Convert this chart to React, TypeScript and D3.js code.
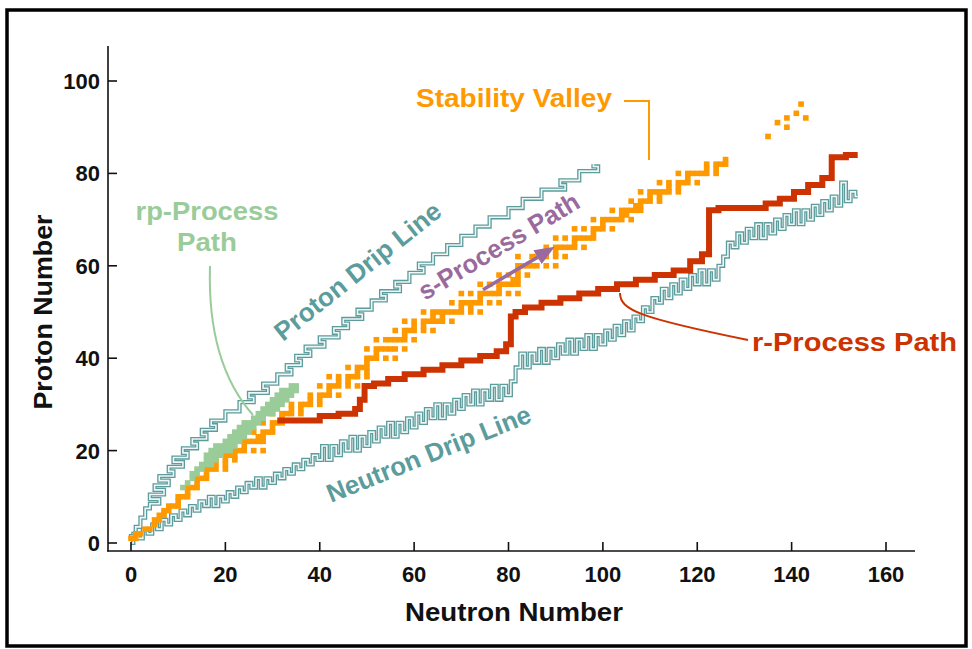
import * as d3 from "d3";
import { useEffect, useRef } from "react";

const xTicks = [0, 20, 40, 60, 80, 100, 120, 140, 160];
const yTicks = [0, 20, 40, 60, 80, 100];

// stable nuclides: [Z, stable N values]
const stableNuclides: [number, number[]][] = [
  [1, [0, 1]], [2, [1, 2]], [3, [3, 4]], [4, [5]], [5, [5, 6]], [6, [6, 7]], [7, [7, 8]], [8, [8, 9, 10]], [9, [10]], [10, [10, 11, 12]],
  [11, [12]], [12, [12, 13, 14]], [13, [14]], [14, [14, 15, 16]], [15, [16]], [16, [16, 17, 18, 20]], [17, [18, 20]], [18, [18, 20, 22]], [19, [20, 21, 22]], [20, [20, 22, 23, 24, 26, 28]],
  [21, [24]], [22, [24, 25, 26, 27, 28]], [23, [27, 28]], [24, [26, 28, 29, 30]], [25, [30]], [26, [28, 30, 31, 32]], [27, [32]], [28, [30, 32, 33, 34, 36]], [29, [34, 36]], [30, [34, 36, 37, 38, 40]],
  [31, [38, 40]], [32, [38, 40, 41, 42, 44]], [33, [42]], [34, [40, 42, 43, 44, 46, 48]], [35, [44, 46]], [36, [42, 44, 46, 47, 48, 50]], [37, [48, 50]], [38, [46, 48, 49, 50]], [39, [50]], [40, [50, 51, 52, 54, 56]],
  [41, [52]], [42, [50, 52, 53, 54, 55, 56, 58]], [44, [52, 54, 55, 56, 57, 58, 60]], [45, [58]], [46, [56, 58, 59, 60, 62, 64]], [47, [60, 62]], [48, [58, 60, 62, 63, 64, 65, 66, 68]], [49, [64, 66]], [50, [62, 64, 65, 66, 67, 68, 69, 70, 72, 74]],
  [51, [70, 72]], [52, [68, 70, 71, 72, 73, 74, 76, 78]], [53, [74]], [54, [70, 72, 74, 75, 76, 77, 78, 80, 82]], [55, [78]], [56, [74, 76, 78, 79, 80, 81, 82]], [57, [81, 82]], [58, [78, 80, 82, 84]], [59, [82]], [60, [82, 83, 84, 85, 86, 88, 90]],
  [62, [82, 85, 86, 87, 88, 90, 92]], [63, [88, 90]], [64, [88, 90, 91, 92, 93, 94, 96]], [65, [94]], [66, [90, 92, 94, 95, 96, 97, 98]], [67, [98]], [68, [94, 96, 98, 99, 100, 102]], [69, [100]], [70, [98, 100, 101, 102, 103, 104, 106]],
  [71, [104, 105]], [72, [102, 104, 105, 106, 107, 108]], [73, [107, 108]], [74, [106, 108, 109, 110, 112]], [75, [110, 112]], [76, [108, 110, 111, 112, 113, 114, 116]], [77, [114, 116]], [78, [112, 114, 116, 117, 118, 120]], [79, [118]], [80, [116, 118, 119, 120, 121, 122, 124]],
  [81, [122, 124]], [82, [122, 124, 125, 126]], [83, [126]],
];

// long-lived heavy group: [N, Z]
const heavyNuclides: [number, number][] = [
  [135, 88], [137, 91], [139, 90], [139, 92], [141, 93], [142, 95], [143, 92],
];

// rp-process band, per neutron number
const rpN = [11, 12, 13, 14, 15, 16, 17, 18, 19, 20, 21, 22, 23, 24, 25, 26, 27, 28, 29, 30, 31, 32, 33, 34, 35];
const rpZlo = [12, 13, 14, 15, 16, 17, 17, 18, 19, 20, 20, 21, 22, 23, 24, 25, 26, 27, 28, 28, 29, 30, 31, 32, 33];
const rpZhi = [12, 13, 15, 16, 17, 19, 20, 21, 21, 22, 23, 24, 25, 26, 26, 27, 28, 29, 30, 31, 32, 33, 33, 34, 34];

// r-process path
const rPathN = [31, 39, 41, 47, 48, 49, 50, 53, 56, 60, 64, 68, 72, 76, 79, 80, 81, 82, 85, 89, 93, 97, 101, 105, 109, 113, 117, 120, 122, 123, 126, 133, 136, 139, 142, 145, 148, 149, 154];
const rPathZ = [26.5, 26.5, 27.5, 28, 29, 31, 34, 34.5, 35.5, 36.5, 37.5, 38.5, 39.5, 40.5, 41.5, 43, 49, 50, 51, 52, 53, 54, 55, 56, 57, 58, 59, 61, 62.5, 72, 72.5, 72.5, 73.5, 74.5, 76, 77.5, 79, 83.5, 84];

// proton drip line: lowest N for Z = 1..82
const protonDripN = [
  0, 1, 1, 2, 2, 3, 3, 4, 6, 4,
  7, 5, 8, 6, 9, 8, 11, 9, 12, 11,
  14, 13, 16, 15, 18, 17, 20, 20, 23, 23,
  26, 25, 29, 28, 31, 31, 34, 33, 36, 35,
  38, 37, 41, 40, 44, 43, 46, 45, 49, 48,
  51, 51, 54, 53, 57, 56, 59, 59, 62, 61,
  64, 64, 67, 67, 70, 70, 73, 73, 76, 76,
  80, 80, 83, 83, 87, 87, 92, 91, 95, 95,
  99, 98,
];

// neutron drip line: lowest Z for N = 0..154
const neutronDripZ = [
  0, 2, 1, 3, 2, 4, 3, 5, 4, 6,
  5, 7, 6, 8, 7, 9, 8, 10, 8, 10,
  9, 11, 10, 12, 11, 13, 12, 14, 12, 14,
  13, 15, 14, 16, 15, 17, 16, 18, 17, 19,
  18, 21, 18, 21, 19, 22, 20, 23, 20, 23,
  21, 24, 22, 25, 23, 26, 23, 26, 24, 27,
  25, 28, 26, 29, 27, 30, 27, 30, 28, 31,
  29, 32, 30, 33, 30, 33, 31, 34, 31, 34,
  32, 35, 38, 41, 38, 41, 39, 42, 39, 42,
  40, 43, 41, 44, 41, 44, 42, 45, 42, 45,
  43, 46, 44, 47, 45, 48, 46, 49, 48, 51,
  50, 53, 52, 55, 53, 56, 54, 57, 55, 58,
  56, 59, 56, 59, 57, 60, 62, 65, 64, 67,
  65, 68, 66, 69, 66, 69, 67, 70, 68, 71,
  69, 72, 69, 72, 70, 73, 71, 74, 72, 75,
  73, 78, 74, 76, 75,
];

// s-process arrow [N, Z]
const sArrowFrom = [74.6, 54.8];
const sArrowTo = [89.8, 64.1];

const TEAL = "#5c9c9c";
const ORANGE = "#ff9900";
const RED = "#cc3300";
const GREEN = "#99cc99";
const PURPLE = "#9a6a9e";
const FONT = "'Liberation Sans', Arial, Helvetica, sans-serif";

const App = () => {
  const svgRef = useRef<SVGSVGElement>(null);

  useEffect(() => {
    document.body.style.margin = "0";
    if (!svgRef.current) return;
    const svg = d3.select(svgRef.current);
    svg.selectAll("*").remove();

    const x = d3.scaleLinear().domain([0, 160]).range([131, 886]);
    const y = d3.scaleLinear().domain([0, 100]).range([543, 81]);
    // cell size, a bit larger than one unit so neighbours merge
    const sx = (x(1) - x(0)) * 1.2;
    const sy = (y(0) - y(1)) * 1.2;

    svg.append("rect").attr("width", 972).attr("height", 649).attr("fill", "#fff");
    // frame
    svg
      .append("rect")
      .attr("x", 7)
      .attr("y", 10)
      .attr("width", 959)
      .attr("height", 636)
      .attr("fill", "none")
      .attr("stroke", "#000")
      .attr("stroke-width", 3.5);

    // drip lines (hollow teal lines)
    const nLine = d3
      .line<number>()
      .x((_, i) => x(i))
      .y((z) => y(z))
      .curve(d3.curveStep);
    // proton line drawn with axes swapped, then flipped back
    const pLine = d3
      .line<number>()
      .x((_, i) => y(i + 1))
      .y((n) => x(n))
      .curve(d3.curveStep);
    const drip = svg.append("g").attr("fill", "none").attr("stroke-linejoin", "miter");
    [
      { d: nLine(neutronDripZ), t: null },
      { d: pLine(protonDripN), t: "matrix(0,1,1,0,0,0)" },
    ].forEach((p) => {
      drip.append("path").attr("d", p.d).attr("transform", p.t).attr("stroke", TEAL).attr("stroke-width", 4.2);
      drip.append("path").attr("d", p.d).attr("transform", p.t).attr("stroke", "#eef6f6").attr("stroke-width", 1.6);
    });

    // stability valley
    const cells = stableNuclides.flatMap(([z, ns]) => ns.map((n) => [n, z]));
    const valley = svg.append("g").attr("fill", ORANGE);
    valley
      .selectAll("rect")
      .data([...cells, ...heavyNuclides])
      .join("rect")
      .attr("x", (d) => x(d[0]) - sx / 2)
      .attr("y", (d) => y(d[1]) - sy / 2)
      .attr("width", sx)
      .attr("height", sy);

    // rp-process
    const rpCells = rpN.flatMap((n, i) => d3.range(rpZlo[i], rpZhi[i] + 1).map((z) => [n, z]));
    svg
      .append("g")
      .attr("fill", GREEN)
      .selectAll("rect")
      .data(rpCells)
      .join("rect")
      .attr("x", (d) => x(d[0]) - sx / 2)
      .attr("y", (d) => y(d[1]) - sy / 2)
      .attr("width", sx)
      .attr("height", sy);

    // r-process path
    const rLine = d3
      .line<number>()
      .x((n) => x(n))
      .y((_, i) => y(rPathZ[i]))
      .curve(d3.curveStep);
    svg
      .append("path")
      .attr("d", rLine(rPathN))
      .attr("fill", "none")
      .attr("stroke", RED)
      .attr("stroke-width", 6);

    // s-process arrow
    const ax0 = x(sArrowFrom[0]);
    const ay0 = y(sArrowFrom[1]);
    const ax1 = x(sArrowTo[0]);
    const ay1 = y(sArrowTo[1]);
    const len = Math.hypot(ax1 - ax0, ay1 - ay0);
    const ux = (ax1 - ax0) / len;
    const uy = (ay1 - ay0) / len;
    const hl = 20;
    const hw = 8;
    svg
      .append("line")
      .attr("x1", ax0)
      .attr("y1", ay0)
      .attr("x2", ax1 - ux * hl)
      .attr("y2", ay1 - uy * hl)
      .attr("stroke", PURPLE)
      .attr("stroke-width", 3.5);
    svg
      .append("polygon")
      .attr(
        "points",
        [
          [ax1, ay1],
          [ax1 - ux * hl - uy * hw, ay1 - uy * hl + ux * hw],
          [ax1 - ux * hl + uy * hw, ay1 - uy * hl - ux * hw],
        ]
          .map((p) => p.join(","))
          .join(" ")
      )
      .attr("fill", PURPLE);

    // leader lines
    const leaders = svg.append("g").attr("fill", "none").attr("stroke-width", 2);
    leaders.append("path").attr("d", "M624,101 H649 V160").attr("stroke", ORANGE);
    leaders.append("path").attr("d", "M620,293 C620,310 640,318 748,340").attr("stroke", RED);
    leaders.append("path").attr("d", "M210,266 C208,330 222,380 253,415").attr("stroke", GREEN);

    // axes
    const ax = svg.append("g").attr("stroke", "#111").attr("stroke-width", 1.6);
    ax.append("line").attr("x1", 108).attr("y1", 46).attr("x2", 108).attr("y2", 551.5);
    ax.append("line").attr("x1", 107.2).attr("y1", 551).attr("x2", 915).attr("y2", 551);
    ax.selectAll(".yt")
      .data(yTicks)
      .join("line")
      .attr("x1", 108)
      .attr("x2", 117)
      .attr("y1", (d) => y(d))
      .attr("y2", (d) => y(d));
    ax.selectAll(".xt")
      .data(xTicks)
      .join("line")
      .attr("x1", (d) => x(d))
      .attr("x2", (d) => x(d))
      .attr("y1", 551)
      .attr("y2", 542);

    const labels = svg.append("g").attr("font-family", FONT).attr("font-weight", "bold").attr("fill", "#111");
    labels
      .selectAll(".yl")
      .data(yTicks)
      .join("text")
      .attr("x", 100)
      .attr("y", (d) => y(d))
      .attr("dy", "0.36em")
      .attr("text-anchor", "end")
      .attr("font-size", 22)
      .text((d) => d);
    labels
      .selectAll(".xl")
      .data(xTicks)
      .join("text")
      .attr("x", (d) => x(d))
      .attr("y", 582)
      .attr("text-anchor", "middle")
      .attr("font-size", 22)
      .text((d) => d);
    labels
      .append("text")
      .attr("x", 514)
      .attr("y", 621)
      .attr("text-anchor", "middle")
      .attr("font-size", 26)
      .attr("textLength", 218)
      .attr("lengthAdjust", "spacingAndGlyphs")
      .text("Neutron Number");
    labels
      .append("text")
      .attr("transform", "translate(52,312) rotate(-90)")
      .attr("text-anchor", "middle")
      .attr("font-size", 26)
      .attr("textLength", 195)
      .attr("lengthAdjust", "spacingAndGlyphs")
      .text("Proton Number");

    // annotations
    const note = (
      text: string,
      px: number,
      py: number,
      color: string,
      length: number,
      angle = 0,
      anchor = "start"
    ) =>
      svg
        .append("text")
        .attr("transform", `translate(${px},${py}) rotate(${angle})`)
        .attr("text-anchor", anchor)
        .attr("font-family", FONT)
        .attr("font-weight", "bold")
        .attr("font-size", 26)
        .attr("fill", color)
        .attr("textLength", length)
        .attr("lengthAdjust", "spacingAndGlyphs")
        .text(text);

    note("Stability Valley", 416, 107, ORANGE, 196);
    note("r-Process Path", 752, 351, RED, 205);
    note("rp-Process", 207, 220, GREEN, 143, 0, "middle");
    note("Path", 207, 251, GREEN, 60, 0, "middle");
    note("Proton Drip Line", 283, 342, TEAL, 205, -38.5);
    note("s-Process Path", 425, 301, PURPLE, 183, -31);
    note("Neutron Drip Line", 331, 503, TEAL, 218, -22);
  }, []);

  return <svg ref={svgRef} width={972} height={649} style={{ display: "block" }}></svg>;
};

export default App;
